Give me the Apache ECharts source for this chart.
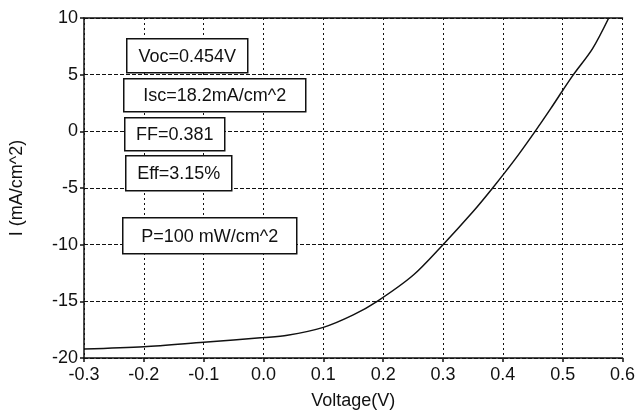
<!DOCTYPE html>
<html>
<head>
<meta charset="utf-8">
<script src="https://cdn.jsdelivr.net/npm/echarts@6/dist/echarts.min.js"></script>
<style>
  html, body { margin: 0; padding: 0; background: #fff; }
  #main { width: 638px; height: 415px; }
</style>
</head>
<body>
<div id="main"></div>
<script>
// I-V curve
var voltage = [-0.3, -0.2, -0.1, 0.0, 0.04, 0.1, 0.15, 0.19, 0.25, 0.3, 0.35, 0.383, 0.42, 0.454, 0.48, 0.5, 0.518, 0.55, 0.577]
var current = [-19.2, -19.0, -18.6, -18.2, -18.0, -17.3, -16.2, -15.0, -12.7, -10.0, -7.1, -5.0, -2.5, 0.0, 2.0, 3.6, 5.0, 7.3, 10.0]

var xTicks = ['-0.3', '-0.2', '-0.1', '0.0', '0.1', '0.2', '0.3', '0.4', '0.5', '0.6']
var notes = ['Voc=0.454V', 'Isc=18.2mA/cm^2', 'FF=0.381', 'Eff=3.15%', 'P=100 mW/cm^2']

var font = 'Liberation Sans, Arial, sans-serif'
var ink = '#111'

var pts = voltage.map((v, i) => [v, current[i]])

// boxes: [x, y, w, h]
var boxes = [
    [126, 38, 121, 34],
    [123, 78, 182, 33],
    [124, 117, 100, 33],
    [125, 155, 106, 35],
    [122, 217, 174, 36]
]

var graphics = []
notes.forEach((t, i) => {
    var b = boxes[i]
    graphics.push({
        type: 'group',
        left: b[0],
        top: b[1],
        z: 100,
        children: [{
            type: 'rect',
            z: 100,
            shape: { x: 0, y: 0, width: b[2], height: b[3] },
            style: { fill: '#fff', stroke: ink, lineWidth: 1.5 }
        }, {
            type: 'text',
            z: 101,
            x: b[2] / 2,
            y: b[3] / 2 + 1,
            style: {
                text: t,
                fill: ink,
                font: '18px ' + font,
                align: 'center',
                verticalAlign: 'middle'
            }
        }]
    })
})

var myChart = echarts.init(document.getElementById('main'))

var option = {
    backgroundColor: '#fff',
    animation: false,
    grid: { left: 78, right: 15, top: 18, bottom: 55 },
    xAxis: [{
        type: 'value',
        min: -0.3,
        max: 0.6,
        interval: 0.1,
        name: 'Voltage(V)',
        nameLocation: 'middle',
        nameGap: 34,
        nameTextStyle: { color: ink, fontSize: 18, fontFamily: font },
        axisLine: { show: true, onZero: false, lineStyle: { color: ink, width: 1.5 } },
        axisTick: { show: true, length: 4, lineStyle: { color: ink, width: 1.5 } },
        axisLabel: {
            color: ink, fontSize: 18, fontFamily: font, margin: 8,
            formatter: (v) => xTicks[Math.round((v + 0.3) * 10)]
        },
        splitLine: { show: true, lineStyle: { color: ink, width: 1, type: [2, 3] } }
    }, {
        type: 'value',
        position: 'top',
        min: -0.3,
        max: 0.6,
        interval: 0.1,
        axisLine: { show: true, onZero: false, lineStyle: { color: ink, width: 1.5 } },
        axisTick: { show: false },
        axisLabel: { show: false },
        splitLine: { show: false }
    }],
    yAxis: {
        type: 'value',
        min: -20,
        max: 10,
        interval: 5,
        name: 'I (mA/cm^2)',
        nameLocation: 'middle',
        nameGap: 58,
        nameTextStyle: { color: ink, fontSize: 18, fontFamily: font },
        axisLine: { show: true, onZero: false, lineStyle: { color: ink, width: 1.5 } },
        axisTick: { show: true, length: 4, lineStyle: { color: ink, width: 1.5 } },
        axisLabel: { color: ink, fontSize: 18, fontFamily: font, margin: 6 },
        splitLine: { show: true, lineStyle: { color: ink, width: 1, type: [4, 2] } }
    },
    graphic: graphics,
    series: [{
        type: 'line',
        data: pts,
        smooth: 0.3,
        showSymbol: false,
        lineStyle: { color: ink, width: 1.5 },
        z: 3
    }]
}

myChart.setOption(option)
</script>
</body>
</html>
